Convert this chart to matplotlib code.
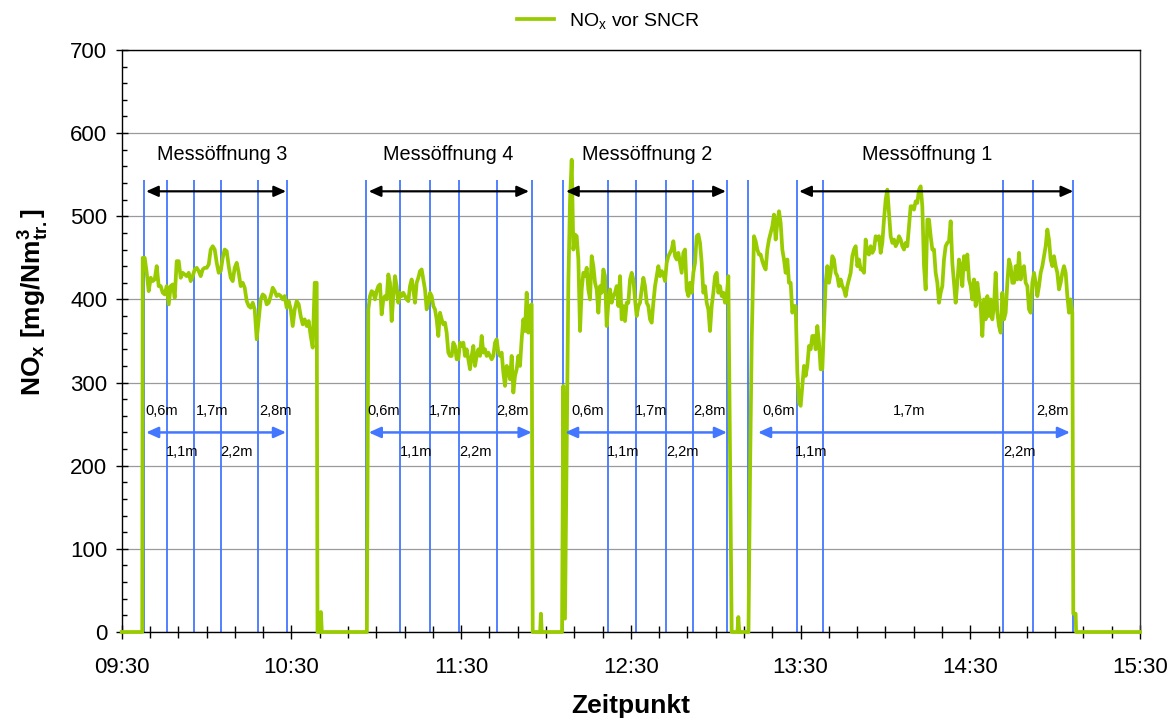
import numpy as np
import pandas as pd
import matplotlib
matplotlib.use("Agg")
import matplotlib.pyplot as plt
import matplotlib.dates as mdates

plt.rcParams["font.family"] = ["Liberation Sans", "DejaVu Sans"]
plt.rcParams["mathtext.fontset"] = "custom"
plt.rcParams["mathtext.rm"] = "Liberation Sans"
plt.rcParams["mathtext.it"] = "Liberation Sans:italic"
plt.rcParams["mathtext.bf"] = "Liberation Sans:bold"

DAY = "2000-01-01"

# ---------------------------------------------------------------------------
# NOx before SNCR: idle periods / transitions (clock time, mg/Nm3)
gap_times = ["09:30:00", "09:37:15",
             "10:39:13", "10:40:05", "10:40:25", "10:40:45", "10:56:40",
             "11:55:18", "11:57:55", "11:58:12", "11:58:30", "12:05:40",
             "12:06:07", "12:06:43",
             "13:05:39", "13:07:40", "13:08:00", "13:08:20", "13:11:35",
             "13:12:10", "13:12:44",
             "15:06:25", "15:07:15", "15:07:25", "15:30:00"]
gap_nox = [0, 0,
           0, 0, 24, 0, 0,
           0, 0, 22, 0, 0,
           296, 16,
           0, 0, 18, 0, 0,
           200, 352,
           22, 22, 0, 0]

# Measuring runs, evenly sampled between first and last sample
mo3_span = ("09:37:25", "10:38:56")
mo3_nox = [450, 450, 432, 410, 426, 422, 424, 440, 416, 416,
           408, 406, 416, 394, 416, 418, 402, 446, 446, 426,
           432, 430, 428, 432, 422, 428, 436, 438, 434, 428,
           436, 438, 438, 442, 460, 464, 460, 444, 432, 434,
           450, 460, 458, 440, 426, 422, 438, 444, 432, 416,
           420, 414, 398, 392, 390, 396, 388, 352, 376, 400,
           406, 404, 394, 396, 404, 414, 410, 404, 406, 404,
           400, 404, 390, 398, 388, 368, 388, 398, 394, 380,
           370, 376, 368, 374, 356, 342, 420, 420]

mo4_span = ("10:57:11", "11:54:56")
mo4_nox = [388, 404, 410, 408, 400, 410, 416, 418, 382, 400,
           404, 400, 430, 420, 374, 404, 428, 416, 396, 408,
           404, 408, 404, 400, 398, 416, 424, 412, 396, 420,
           426, 434, 436, 424, 412, 388, 396, 408, 404, 392,
           388, 376, 356, 384, 376, 370, 372, 360, 336, 332,
           332, 348, 344, 328, 328, 348, 344, 348, 332, 340,
           328, 316, 332, 344, 320, 332, 340, 332, 356, 336,
           340, 332, 336, 332, 328, 332, 348, 352, 336, 332,
           336, 312, 296, 320, 316, 304, 332, 288, 308, 316,
           332, 320, 352, 376, 362, 408, 360, 392, 394]

mo2_span = ("12:07:19", "13:04:28")
mo2_nox = [220, 420, 520, 568, 460, 478, 476, 448, 362, 412,
           432, 428, 438, 412, 400, 452, 440, 420, 412, 384,
           416, 408, 436, 428, 368, 396, 412, 396, 404, 408,
           416, 392, 428, 376, 392, 374, 396, 396, 424, 432,
           424, 400, 380, 392, 396, 412, 426, 416, 396, 392,
           376, 372, 396, 416, 428, 440, 428, 434, 430, 422,
           444, 452, 456, 460, 470, 452, 448, 456, 444, 432,
           456, 460, 412, 404, 420, 408, 432, 444, 476, 478,
           468, 444, 408, 416, 396, 388, 362, 392, 408, 428,
           432, 408, 416, 404, 408, 396, 404, 428]

mo1_span = ("13:13:32", "15:06:05")
mo1_nox = [476, 470, 460, 454, 454, 446, 440, 436, 460, 472,
           480, 488, 502, 472, 492, 506, 492, 460, 448, 432,
           448, 420, 420, 384, 392, 392, 312, 276, 272, 296,
           320, 308, 320, 344, 340, 356, 356, 340, 368, 348,
           316, 316, 368, 420, 440, 420, 432, 452, 448, 432,
           428, 416, 424, 416, 412, 404, 416, 424, 432, 452,
           460, 464, 440, 448, 436, 436, 432, 472, 456, 454,
           464, 456, 460, 476, 472, 476, 456, 468, 496, 520,
           532, 504, 476, 468, 472, 464, 468, 476, 472, 464,
           460, 468, 464, 488, 512, 512, 508, 518, 516, 532,
           536, 512, 440, 412, 496, 496, 476, 460, 460, 432,
           420, 396, 408, 416, 448, 464, 468, 470, 494, 444,
           420, 396, 420, 448, 440, 416, 452, 436, 454, 424,
           416, 400, 424, 392, 420, 404, 392, 356, 400, 376,
           404, 380, 400, 376, 392, 432, 384, 368, 360, 408,
           376, 384, 420, 448, 440, 420, 420, 440, 424, 456,
           424, 436, 440, 420, 416, 388, 384, 420, 432, 420,
           404, 416, 432, 440, 452, 464, 484, 472, 448, 440,
           452, 440, 432, 412, 420, 432, 440, 432, 404, 384,
           400, 384]

# Measuring openings: probe positions (clock times) and depth labels
openings = ["Messöffnung 3", "Messöffnung 4", "Messöffnung 2", "Messöffnung 1"]
opening_title_times = ["10:05:28", "11:25:22", "12:35:36", "14:14:36"]
probe_times = [
    ["09:37:53", "09:45:55", "09:55:40", "10:05:00", "10:18:17", "10:28:20"],
    ["10:56:22", "11:08:23", "11:19:00", "11:29:15", "11:42:34", "11:54:57"],
    ["12:06:07", "12:22:02", "12:31:49", "12:42:26", "12:52:05", "13:04:06"],
    ["13:11:31", "13:28:51", "13:37:50", "14:41:41", "14:52:04", "15:06:25"],
]
opening_spans = [("09:38:36", "10:28:06"), ("10:57:19", "11:54:00"),
                 ("12:07:04", "13:03:36"), ("13:29:30", "15:06:25")]
depth_spans = [("09:38:36", "10:28:06"), ("10:57:19", "11:54:57"),
               ("12:06:43", "13:04:00"), ("13:14:57", "15:05:16")]
depth_labels = ["0,6m", "1,1m", "1,7m", "2,2m", "2,8m"]
depth_label_times = [
    ["09:38:14", "09:45:33", "09:56:16", "10:05:00", "10:18:39"],
    ["10:56:43", "11:08:23", "11:18:37", "11:29:21", "11:42:34"],
    ["12:09:05", "12:21:28", "12:31:28", "12:42:41", "12:52:05"],
    ["13:16:37", "13:28:02", "14:02:34", "14:41:41", "14:53:14"],
]

x_start, x_end = "09:30", "15:30"
y_max = 700


def ts(clock):
    return pd.Timestamp(f"{DAY} {clock}")


# Assemble the measured series
parts_t = [pd.DatetimeIndex([ts(c) for c in gap_times])]
parts_v = [np.asarray(gap_nox, float)]
for (a, b), vals in [(mo3_span, mo3_nox), (mo4_span, mo4_nox),
                     (mo2_span, mo2_nox), (mo1_span, mo1_nox)]:
    parts_t.append(pd.date_range(ts(a), ts(b), periods=len(vals)))
    parts_v.append(np.asarray(vals, float))
t_all = np.concatenate([p.values for p in parts_t])
v_all = np.concatenate(parts_v)
order = np.argsort(t_all)
t_all, v_all = t_all[order], v_all[order]

GREEN = "#99CC00"
BLUE = "#4477FF"

fig = plt.figure(figsize=(11.75, 7.18), dpi=100)
ax = fig.add_axes([0.1036, 0.1198, 0.8666, 0.8106])

ax.yaxis.grid(True, which="major", color="#9a9a9a", lw=0.9, zorder=0)
ax.set_axisbelow(True)

# probe position markers
for group in probe_times:
    ax.vlines([ts(c) for c in group], 0, 544, color=BLUE, lw=1.3, zorder=2)

# NOx curve
line, = ax.plot(t_all, v_all, color=GREEN, lw=2.7, zorder=4,
                solid_joinstyle="round", clip_on=False,
                label="NO$_\\mathrm{x}$ vor SNCR")

# opening titles, span arrows and depth labels
for name, tc in zip(openings, opening_title_times):
    ax.text(ts(tc), 574, name, ha="center", va="center", fontsize=14.3, zorder=6)

for a, b in opening_spans:
    ax.annotate("", xy=(ts(b), 530), xytext=(ts(a), 530),
                arrowprops=dict(arrowstyle="<|-|>,head_length=0.6,head_width=0.27",
                                color="black", lw=1.6, mutation_scale=12,
                                shrinkA=0, shrinkB=0), zorder=5)

for a, b in depth_spans:
    ax.annotate("", xy=(ts(b), 240), xytext=(ts(a), 240),
                arrowprops=dict(arrowstyle="<|-|>,head_length=0.6,head_width=0.27",
                                color=BLUE, lw=1.8, mutation_scale=12,
                                shrinkA=0, shrinkB=0), zorder=5)

for group in depth_label_times:
    for i, (tc, lab) in enumerate(zip(group, depth_labels)):
        yv = 266 if i % 2 == 0 else 216
        ax.text(ts(tc), yv, lab, ha="left", va="center", fontsize=10.5, zorder=6)

# axes styling
ax.set_xlim(ts(x_start), ts(x_end))
ax.set_ylim(0, y_max)
ax.set_yticks(np.arange(0, y_max + 1, 100))
ax.set_yticks(np.arange(0, y_max + 1, 20), minor=True)
ax.xaxis.set_major_locator(mdates.MinuteLocator(byminute=[30]))
ax.xaxis.set_minor_locator(mdates.MinuteLocator(byminute=range(0, 60, 10)))
ax.xaxis.set_major_formatter(mdates.DateFormatter("%H:%M"))

ax.tick_params(axis="x", which="major", direction="inout", length=10, width=1,
               pad=13, labelsize=16)
ax.tick_params(axis="x", which="minor", direction="inout", length=9, width=1)
ax.tick_params(axis="y", which="major", direction="inout", length=9, width=1,
               pad=6, labelsize=16)
ax.tick_params(axis="y", which="minor", direction="in", length=3.6, width=1)

for side in ["left", "bottom", "top"]:
    ax.spines[side].set_color("black")
    ax.spines[side].set_linewidth(1.0)
ax.spines["right"].set_color("#333333")
ax.spines["right"].set_linewidth(1.0)

ax.set_xlabel("Zeitpunkt", fontsize=19, fontweight="bold")
ax.xaxis.set_label_coords(0.5, -0.106)
ax.set_ylabel("NO$_\\mathbf{x}$ [mg/Nm$^\\mathbf{3}_\\mathbf{tr.}$]",
              fontsize=19, fontweight="bold")
ax.yaxis.set_label_coords(-0.069, 0.567)

fig.legend(handles=[line], loc="center", bbox_to_anchor=(0.518, 0.971),
           frameon=False, fontsize=14, handlelength=1.9, handletextpad=0.75)

fig.savefig("out.png", dpi=100)
